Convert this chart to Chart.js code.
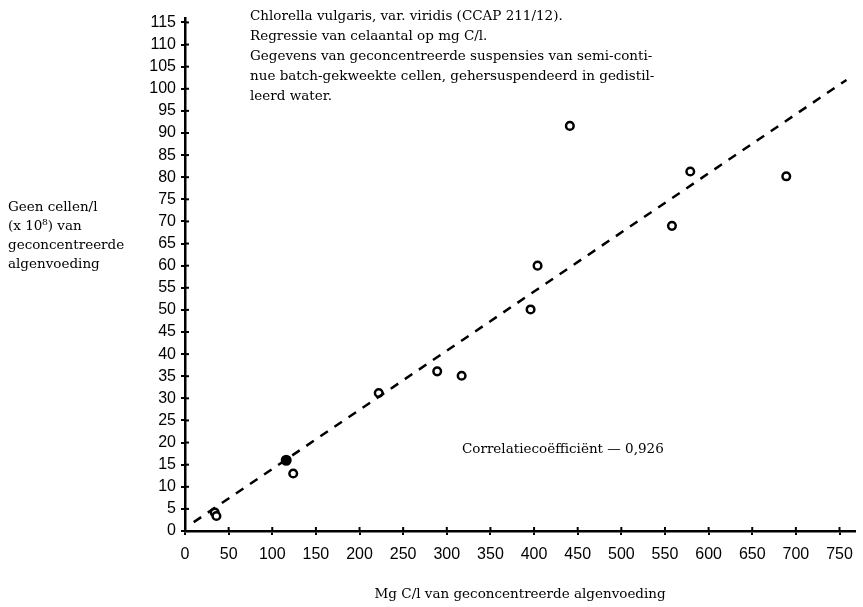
<!DOCTYPE html>
<html>
<head>
  <script src="https://cdn.jsdelivr.net/npm/chart.js"></script>
  <style>
    html, body { margin: 0; padding: 0; background: #fff; }
    #wrap { width: 863px; height: 607px; }
  </style>
</head>
<body>
  <div id="wrap"><canvas id="chartContainer" width="863" height="607"></canvas></div>
  <script>
    // values (Mg C/l, cells/l x 10^8)
    const openX = [34, 36, 124, 222, 289, 317, 396, 404, 441, 558, 579, 689];
    const openY = [4.2, 3.4, 13.0, 31.2, 36.1, 35.1, 50.1, 60.0, 91.6, 69.0, 81.3, 80.2];
    const filledX = [116];
    const filledY = [16.0];
    // regression line, ends as drawn
    const lineX = [10, 758];
    const lineY = [2.0, 102.0];

    const xTicks = [0, 50, 100, 150, 200, 250, 300, 350, 400, 450, 500, 550, 600, 650, 700, 750];
    const yTicks = [0, 5, 10, 15, 20, 25, 30, 35, 40, 45, 50, 55, 60, 65, 70, 75, 80, 85, 90, 95, 100, 105, 110, 115];

    const titleLines = [
      'Chlorella vulgaris, var. viridis (CCAP 211/12).',
      'Regressie van celaantal op mg C/l.',
      'Gegevens van geconcentreerde suspensies van semi-conti-',
      'nue batch-gekweekte cellen, gehersuspendeerd in gedistil-',
      'leerd water.'
    ];
    const yTitleLines = ['Geen cellen/l', '(x 10\u2078) van', 'geconcentreerde', 'algenvoeding'];
    const corrText = 'Correlatiecoëfficiënt — 0,926';

    const serif = '"DejaVu Serif", "Liberation Serif", serif';
    const sans = '"Liberation Sans", Arial, sans-serif';

    function pts(xs, ys) {
      return xs.map((x, i) => ({ x: x, y: ys[i] }));
    }

    // text blocks and the small ticks on the inner side of the axes
    const extras = {
      id: 'extras',
      afterDraw(chart) {
        const ctx = chart.ctx;
        const xs = chart.scales.x, ys = chart.scales.y;
        ctx.save();
        ctx.strokeStyle = '#000';
        ctx.lineWidth = 2;
        xTicks.forEach(v => {
          const px = xs.getPixelForValue(v);
          ctx.beginPath(); ctx.moveTo(px, xs.top); ctx.lineTo(px, xs.top - 4); ctx.stroke();
        });
        yTicks.forEach(v => {
          const py = ys.getPixelForValue(v);
          ctx.beginPath(); ctx.moveTo(ys.right, py); ctx.lineTo(ys.right + 4, py); ctx.stroke();
        });

        ctx.fillStyle = '#000';
        ctx.font = '13.5px ' + serif;
        ctx.textAlign = 'left';
        ctx.textBaseline = 'middle';
        titleLines.forEach((t, i) => ctx.fillText(t, 250, 16 + i * 20.2));
        yTitleLines.forEach((t, i) => ctx.fillText(t, 8, 207 + i * 19));
        ctx.fillText(corrText, 462, 449);
        ctx.restore();
      }
    };

    const ctx = document.getElementById('chartContainer').getContext('2d');
    const myChart = new Chart(ctx, {
      type: 'scatter',
      data: {
        datasets: [
          {
            label: 'regressie',
            type: 'line',
            data: pts(lineX, lineY),
            borderColor: '#000',
            borderWidth: 2.5,
            borderDash: [9, 8],
            pointRadius: 0,
            fill: false
          },
          {
            label: 'metingen',
            data: pts(openX, openY),
            pointStyle: 'circle',
            pointRadius: 3.8,
            pointBorderWidth: 2.5,
            pointBorderColor: '#000',
            pointBackgroundColor: '#fff'
          },
          {
            label: 'metingen (dubbel)',
            data: pts(filledX, filledY),
            pointRadius: 4.5,
            pointBorderWidth: 2,
            pointBorderColor: '#000',
            pointBackgroundColor: '#000'
          }
        ]
      },
      options: {
        responsive: false,
        animation: false,
        layout: { padding: { top: 18, right: 0, left: 0, bottom: 0 } },
        plugins: {
          legend: { display: false },
          tooltip: { enabled: false }
        },
        scales: {
          x: {
            type: 'linear',
            min: 0,
            max: 768,
            afterBuildTicks: s => { s.ticks = xTicks.map(v => ({ value: v })); },
            afterFit: s => { s.height = 76; },
            border: { color: '#000', width: 2.5 },
            grid: { drawOnChartArea: false, drawTicks: true, tickLength: 4, color: '#000', lineWidth: 2 },
            ticks: {
              color: '#000',
              padding: 10,
              maxRotation: 0,
              autoSkip: false,
              font: { family: sans, size: 16 }
            },
            title: {
              display: true,
              text: 'Mg C/l van geconcentreerde algenvoeding',
              color: '#000',
              padding: { top: 17 },
              font: { family: serif, size: 13.5 }
            }
          },
          y: {
            type: 'linear',
            min: 0,
            max: 116,
            afterBuildTicks: s => { s.ticks = yTicks.map(v => ({ value: v })); },
            afterFit: s => { s.width = 185; },
            border: { color: '#000', width: 2.5 },
            grid: { drawOnChartArea: false, drawTicks: true, tickLength: 4, color: '#000', lineWidth: 2 },
            ticks: {
              color: '#000',
              padding: 5,
              autoSkip: false,
              font: { family: sans, size: 16 }
            }
          }
        }
      },
      plugins: [extras]
    });
  </script>
</body>
</html>
